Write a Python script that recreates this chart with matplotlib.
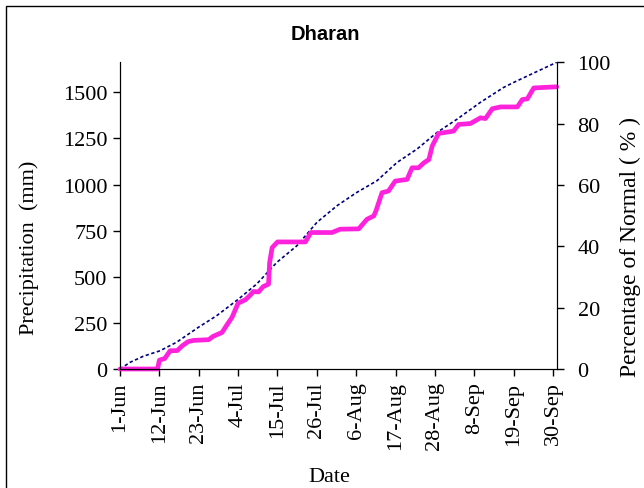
import matplotlib
matplotlib.use("Agg")
import matplotlib.pyplot as plt
from matplotlib.patches import Rectangle
import numpy as np

# day offset from 1-Jun and cumulative rainfall (mm)
actual_day = [0, 10.5, 11, 12.5, 14, 16, 17.4, 19, 20.5, 24.8, 26, 28.5, 30, 31.3, 33, 35,
              36.2, 37.3, 38.7, 40, 41.5, 41.8, 42.5, 44, 51.8, 53.3, 59.2, 61.5, 66.7, 69,
              70.9, 71.5, 73.2, 75, 76.9, 80.2, 81.6, 83.4, 84.9, 86.3, 87.2, 89, 93.2, 94.6,
              97.9, 100.7, 102.1, 104, 106.3, 111, 112.4, 113.8, 115.6, 122]
actual_mm = [0, 0, 48, 57, 99, 100, 126, 148, 155, 159, 177, 198, 243, 280, 357, 375,
             397, 420, 418, 447, 460, 577, 658, 689, 689, 740, 740, 758, 760, 812,
             830, 857, 956, 965, 1019, 1028, 1091, 1091, 1118, 1136, 1208, 1277, 1290, 1326,
             1331, 1362, 1358, 1411, 1421, 1421, 1461, 1465, 1524, 1530]

normal_day = [0, 2.8, 6.5, 11.2, 15.8, 21.9, 27, 33.1, 38.2, 43.8, 49.4, 55, 60.6, 66.2,
              71.8, 77.4, 83, 88.6, 94.2, 100.7, 107.2, 110, 115.6, 122]
normal_mm = [0, 36, 69, 99, 145, 226, 289, 379, 461, 578, 668, 795, 885, 958,
             1021, 1120, 1193, 1283, 1355, 1446, 1527, 1554, 1605, 1663]

tick_labels = ['1-Jun', '12-Jun', '23-Jun', '4-Jul', '15-Jul', '26-Jul', '6-Aug',
               '17-Aug', '28-Aug', '8-Sep', '19-Sep', '30-Sep']
left_ticks = [0, 250, 500, 750, 1000, 1250, 1500]
right_ticks = [0, 20, 40, 60, 80, 100]

serif = 'Liberation Serif'
fs = 16

fig = plt.figure(figsize=(6.44, 4.89), dpi=100)
ax = fig.add_axes([120 / 644, 1 - 370 / 489, (556.7 - 120) / 644, (370 - 63.3) / 489])

ax.plot(normal_day, normal_mm, color='#000080', lw=1.2, ls=(0, (2, 1.5)))
ax.plot(actual_day, actual_mm, color='#FF22DD', lw=3.4, solid_joinstyle='round',
        solid_capstyle='round', clip_on=False)

ax.set_xlim(0, 122)
ax.set_ylim(0, 1663)
ax.set_xticks(np.arange(len(tick_labels)) * 11)
ax.set_xticklabels(tick_labels, rotation=90, family=serif, fontsize=fs)
ax.set_yticks(left_ticks)
ax.set_yticklabels([str(v) for v in left_ticks], family=serif, fontsize=fs)
ax.tick_params(direction='out', length=5, width=1, colors='black', pad=4)
ax.spines['top'].set_visible(False)
ax.set_ylabel('Precipitation  (mm)', family=serif, fontsize=fs)
ax.yaxis.set_label_coords(-0.185, 0.4)
ax.set_xlabel('Date', family=serif, fontsize=fs)
ax.xaxis.set_label_coords(0.4786, -0.32)

ax2 = ax.twinx()
ax2.set_ylim(0, 100)
ax2.set_yticks(right_ticks)
ax2.set_yticklabels([str(v) for v in right_ticks], family=serif, fontsize=fs)
ax2.tick_params(direction='out', length=5, width=1, pad=10)
ax2.spines['top'].set_visible(False)
ax2.set_ylabel('Percentage of Normal ( % )', family=serif, fontsize=17)
ax2.yaxis.set_label_coords(1.145, 0.4)

fig.text(325 / 644, 1 - 35 / 489, 'Dharan', ha='center', va='center',
         family='Liberation Sans', fontweight='bold', fontsize=14.5)

fig.patches.append(Rectangle((6 / 644, -0.1), 1.0, 1.1 - 7 / 489, transform=fig.transFigure,
                             fill=False, edgecolor='black', lw=1))

fig.savefig('out.png', dpi=100)
